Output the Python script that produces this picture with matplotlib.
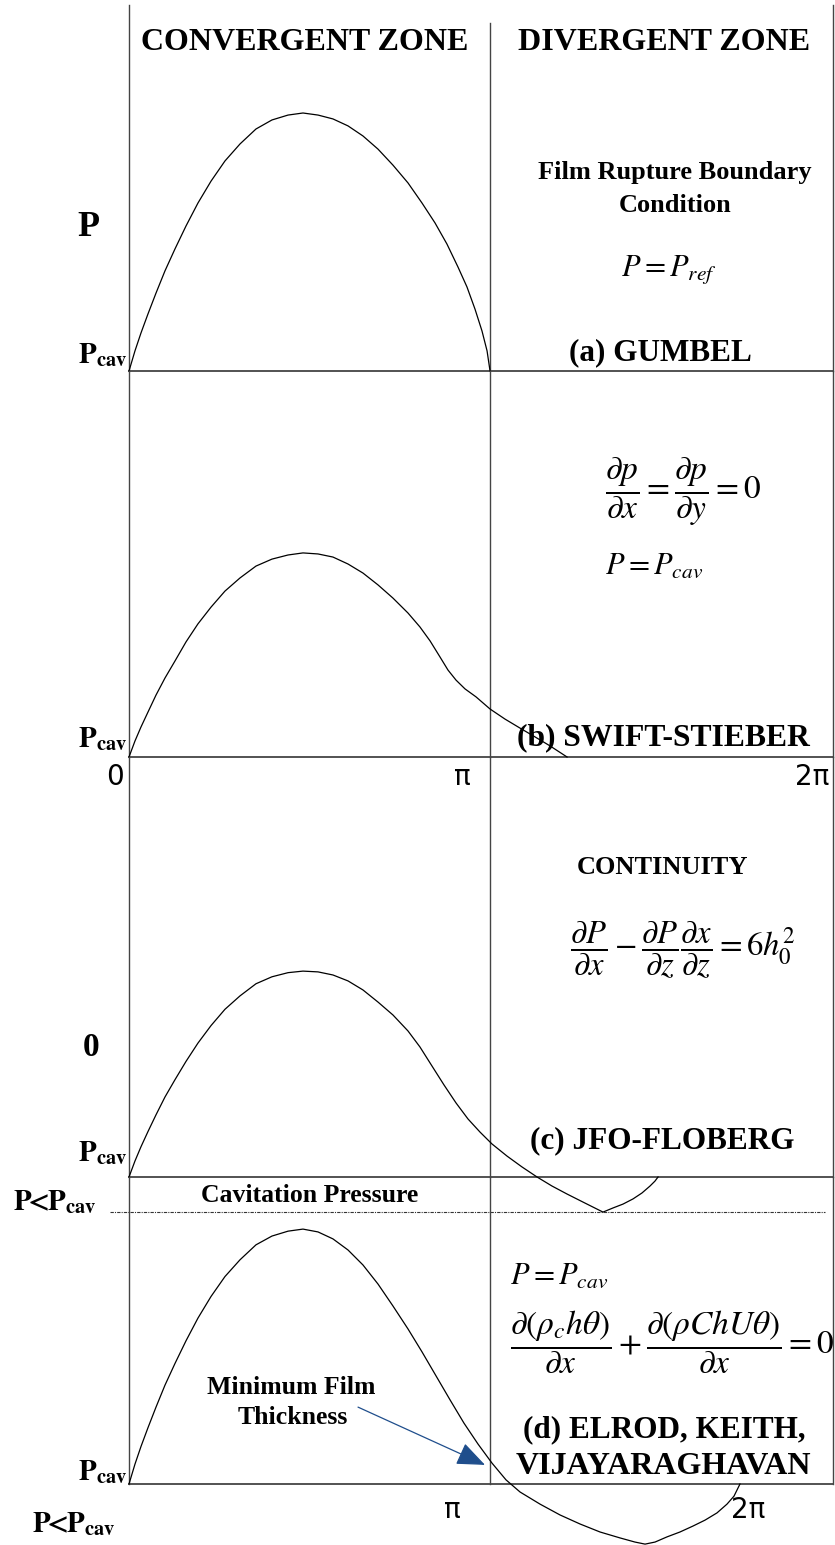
import numpy as np
import matplotlib.pyplot as plt

plt.rcParams['mathtext.fontset'] = 'stix'
SERIF = 'Liberation Serif'

W, H = 835, 1545
S = 258.0                    # pixels per unit of pressure
PX_PER_RAD = 361.0 / np.pi   # pixels per radian of journal angle
X_MAX = 704.0 / PX_PER_RAD   # right edge of the divergent zone

# rising branch angles, shared by all four profiles (0 -> peak)
theta_rise = [0, 0.052, 0.104, 0.165, 0.235, 0.313, 0.400, 0.496, 0.600,
              0.714, 0.835, 0.966, 1.105, 1.244, 1.384, 1.514]

# (a) Gumbel: pressure cut off at P_cav past pi
p_a_rise = [0, 0.078, 0.147, 0.221, 0.302, 0.388, 0.473, 0.562, 0.651,
            0.736, 0.814, 0.880, 0.938, 0.973, 0.992, 1.000]
theta_a_fall = [1.645, 1.775, 1.906, 2.036, 2.167, 2.297, 2.428, 2.550,
                2.663, 2.767, 2.863, 2.941, 3.011, 3.072, 3.116, 3.142]
p_a_fall = [0.992, 0.977, 0.950, 0.911, 0.860, 0.798, 0.729, 0.651,
            0.574, 0.492, 0.403, 0.326, 0.240, 0.155, 0.078, 0.0]

# (b) Swift-Stieber
p_b_rise = [0, 0.062, 0.116, 0.174, 0.240, 0.306, 0.372, 0.446, 0.516,
            0.581, 0.643, 0.694, 0.740, 0.767, 0.783, 0.791]
theta_b_fall = [1.645, 1.775, 1.906, 2.036, 2.167, 2.297, 2.428, 2.532,
                2.620, 2.706, 2.776, 2.846, 2.924, 3.020, 3.142, 3.272,
                3.403, 3.533, 3.664, 3.812]
p_b_fall = [0.787, 0.775, 0.748, 0.713, 0.667, 0.616, 0.558, 0.504,
            0.450, 0.388, 0.337, 0.298, 0.264, 0.233, 0.186, 0.147,
            0.112, 0.078, 0.043, 0.0]

# (c) JFO-Floberg, dips below P_cav before reforming
p_c_rise = [0, 0.062, 0.117, 0.176, 0.241, 0.310, 0.377, 0.448, 0.519,
            0.587, 0.650, 0.702, 0.749, 0.776, 0.792, 0.798]
theta_c_fall = [1.645, 1.775, 1.906, 2.036, 2.167, 2.297, 2.428, 2.532,
                2.637, 2.741, 2.846, 2.950, 3.055, 3.159, 3.290, 3.420,
                3.551, 3.681, 3.812, 3.968, 4.125, 4.212, 4.299, 4.386,
                4.464, 4.534, 4.577, 4.604]
p_c_fall = [0.795, 0.783, 0.760, 0.725, 0.678, 0.628, 0.566, 0.504,
            0.430, 0.357, 0.287, 0.225, 0.174, 0.128, 0.081, 0.039,
            0.0, -0.035, -0.066, -0.101, -0.136, -0.120, -0.105, -0.085,
            -0.062, -0.035, -0.016, 0.0]
p_sub_cav = -0.136
theta_dotted = [-0.165, 6.057]

# (d) Elrod, Keith, Vijayaraghavan
p_d_rise = [0, 0.077, 0.145, 0.218, 0.298, 0.383, 0.467, 0.555, 0.643,
            0.727, 0.804, 0.869, 0.927, 0.961, 0.980, 0.988]
theta_d_fall = [1.645, 1.775, 1.906, 2.036, 2.167, 2.297, 2.428, 2.550,
                2.672, 2.794, 2.915, 3.037, 3.159, 3.281, 3.403, 3.577,
                3.751, 3.925, 4.099, 4.273, 4.403, 4.491, 4.578, 4.682,
                4.795, 4.908, 5.013, 5.117, 5.204, 5.265, 5.317]
p_d_fall = [0.977, 0.950, 0.907, 0.849, 0.775, 0.690, 0.601, 0.512,
            0.419, 0.326, 0.236, 0.155, 0.081, 0.016, -0.031, -0.078,
            -0.120, -0.155, -0.186, -0.209, -0.225, -0.233, -0.225, -0.205,
            -0.186, -0.163, -0.140, -0.112, -0.078, -0.047, 0.0]

ticks_b = [-0.122, 2.898, 5.944]
ticklabels_b = ['0', 'π', '2π']
ticks_d = [2.811, 5.387]
ticklabels_d = ['π', '2π']

# panel extents in pixels: (top, baseline)
panels = [(5, 371), (371, 757), (757, 1177), (1177, 1484)]
LEFT_PX = 129


def fx(x):
    return x / W


def fy(y):
    return 1 - y / H


fig = plt.figure(figsize=(W / 100, H / 100), dpi=100)

axes = []
for top, base in panels:
    ax = fig.add_axes([fx(LEFT_PX), fy(base), 704 / W, (base - top) / H])
    ax.set_xlim(0, X_MAX)
    ax.set_ylim(0, (base - top) / S)
    ax.axis('off')
    ax.patch.set_visible(False)
    ax.axhline(0, color='#444444', lw=1.3, clip_on=False)
    ax.axvline(0, color='#444444', lw=1.0, clip_on=False)
    ax.axvline(X_MAX, color='#444444', lw=1.0, clip_on=False)
    axes.append(ax)
ax_a, ax_b, ax_c, ax_d = axes

ax_a.axvline(np.pi, ymax=(371 - 23) / (371 - 5), color='#444444', lw=1.0)
for ax in (ax_b, ax_c, ax_d):
    ax.axvline(np.pi, color='#444444', lw=1.0, clip_on=False)

curve_kw = dict(color='black', lw=0.9, clip_on=False, zorder=5)
ax_a.plot(theta_rise + theta_a_fall, p_a_rise + p_a_fall, **curve_kw)
ax_b.plot(theta_rise + theta_b_fall, p_b_rise + p_b_fall, **curve_kw)
ax_c.plot(theta_rise + theta_c_fall, p_c_rise + p_c_fall, **curve_kw)
ax_d.plot(theta_rise + theta_d_fall, p_d_rise + p_d_fall, **curve_kw)

ax_c.plot(theta_dotted, [p_sub_cav, p_sub_cav], color='#333333', lw=0.8,
          linestyle=(0, (3, 1, 1, 1)), clip_on=False)

for t, lab in zip(ticks_b, ticklabels_b):
    ax_b.text(t, -0.078, lab, ha='center', va='center', fontsize=20,
              family='DejaVu Sans')
for t, lab in zip(ticks_d, ticklabels_d):
    ax_d.text(t, -0.10, lab, ha='center', va='center', fontsize=20,
              family='DejaVu Sans')

bold = dict(family=SERIF, weight='bold')

fig.text(fx(305), fy(43), 'CONVERGENT ZONE', ha='center', va='center', fontsize=23, **bold)
fig.text(fx(664), fy(43), 'DIVERGENT ZONE', ha='center', va='center', fontsize=23, **bold)

# left-hand pressure labels
fig.text(fx(88), fy(228), 'P', ha='center', va='center', fontsize=26, **bold)
fig.text(fx(91), fy(1047), '0', ha='center', va='center', fontsize=24, **bold)
pcav = r'$\mathbf{P}_{\mathbf{cav}}$'
for yb in (363, 747, 1161, 1480):
    fig.text(fx(127), fy(yb), pcav, ha='right', va='baseline', fontsize=21)
below = r'$\mathbf{P}\!\!\mathbf{<}\!\!\mathbf{P}_{\mathbf{cav}}$'
fig.text(fx(13), fy(1210), below, ha='left', va='baseline', fontsize=21)
fig.text(fx(32), fy(1532), below, ha='left', va='baseline', fontsize=21)

# (a)
fig.text(fx(675), fy(173), 'Film Rupture Boundary', ha='center', va='center', fontsize=19, **bold)
fig.text(fx(675), fy(205), 'Condition', ha='center', va='center', fontsize=19, **bold)
fig.text(fx(669), fy(270), r'$P = P_{ref}$', ha='center', va='center', fontsize=22)
fig.text(fx(660), fy(353), '(a) GUMBEL', ha='center', va='center', fontsize=22.5, **bold)

# (b)
fig.text(fx(605), fy(492),
         r'$\dfrac{\partial p}{\partial x} = \dfrac{\partial p}{\partial y} = 0$',
         ha='left', va='center', fontsize=24)
fig.text(fx(605), fy(565), r'$P = P_{cav}$', ha='left', va='center', fontsize=22)
fig.text(fx(663), fy(738), '(b) SWIFT-STIEBER', ha='center', va='center', fontsize=22.8, **bold)

# (c)
fig.text(fx(662), fy(868), 'CONTINUITY', ha='center', va='center', fontsize=19, **bold)
fig.text(fx(570), fy(950),
         r'$\dfrac{\partial P}{\partial x} - \dfrac{\partial P}{\partial z}'
         r'\dfrac{\partial x}{\partial z} = 6h_0^2$',
         ha='left', va='center', fontsize=23.5)
fig.text(fx(662), fy(1141), '(c) JFO-FLOBERG', ha='center', va='center', fontsize=22.5, **bold)
fig.text(fx(310), fy(1195), 'Cavitation Pressure', ha='center', va='center', fontsize=18.5, **bold)

# (d)
fig.text(fx(510), fy(1275), r'$P = P_{cav}$', ha='left', va='center', fontsize=22)
fig.text(fx(510), fy(1342),
         r'$\dfrac{\partial\left(\rho_c h\theta\right)}{\partial x}'
         r' + \dfrac{\partial\left(\rho ChU\theta\right)}{\partial x} = 0$',
         ha='left', va='center', fontsize=24)
fig.text(fx(664), fy(1430), '(d) ELROD, KEITH,', ha='center', va='center', fontsize=22.5, **bold)
fig.text(fx(663), fy(1467), 'VIJAYARAGHAVAN', ha='center', va='center', fontsize=23, **bold)
fig.text(fx(291), fy(1388), 'Minimum Film', ha='center', va='center', fontsize=18.5, **bold)
fig.text(fx(293), fy(1418), 'Thickness', ha='center', va='center', fontsize=18.5, **bold)

ax_d.annotate('', xy=(3.098, 0.074), xytext=(1.993, 0.298),
              arrowprops=dict(arrowstyle='-|>,head_length=1.1,head_width=0.45',
                              color='#1F4E8C', lw=0.9, mutation_scale=16,
                              shrinkA=0, shrinkB=0),
              annotation_clip=False)

fig.savefig('out.png', dpi=100)
